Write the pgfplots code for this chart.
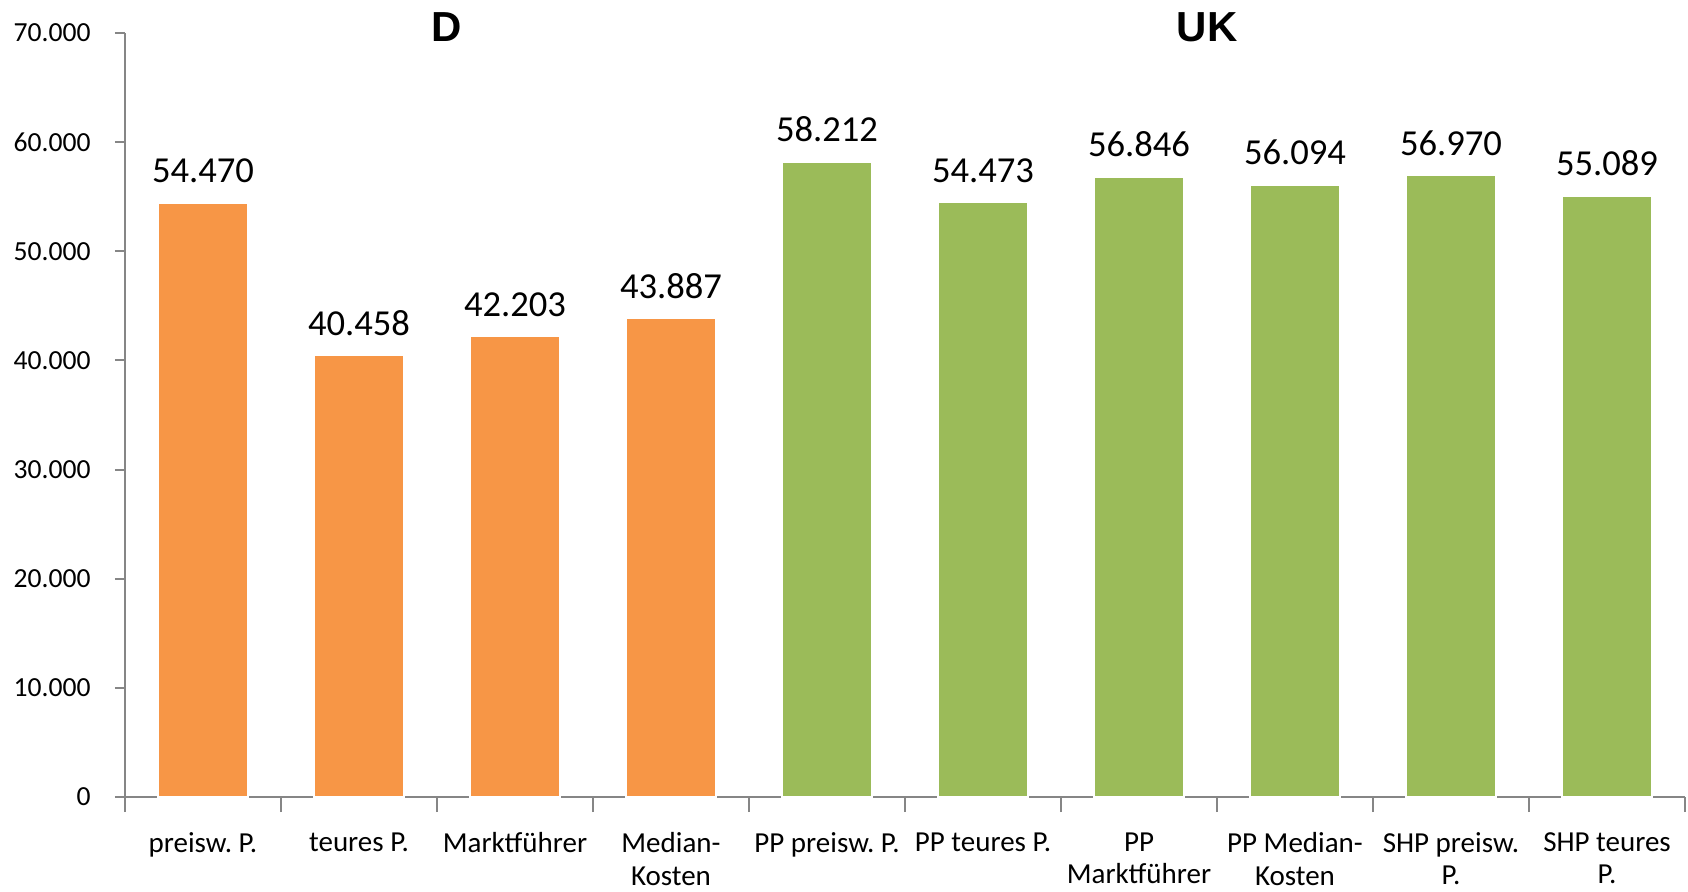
\documentclass[border=0pt]{standalone}
\usepackage{pgfplots}
\pgfplotsset{compat=1.18}
\usepackage{fontspec}
\setmainfont{Carlito}
\newfontfamily\titlefont{Liberation Sans}
\frenchspacing

\definecolor{barOrange}{HTML}{F79646}
\definecolor{barGreen}{HTML}{9BBB59}
\definecolor{axisGray}{HTML}{868686}

\begin{document}
\begin{tikzpicture}
\begin{axis}[
  at={(0,0)}, anchor=south west,
  scale only axis,
  width=780pt, height=382pt,
  xmin=-0.5, xmax=9.5,
  ymin=0, ymax=70000,
  axis lines*=left,
  axis line style={draw=axisGray, line width=1pt},
  tick style={draw=axisGray, line width=1pt},
  tick align=outside,
  major tick length=5pt,
  minor tick length=7.5pt,
  ytick={0,10000,...,70000},
  scaled y ticks=false,
  /pgf/number format/.cd, fixed, precision=0, 1000 sep={.}, assume math mode=true,
  /pgfplots/.cd,
  yticklabel style={font=\fontsize{13.8}{16}\selectfont, inner sep=0pt, xshift=-12pt},
  xtick={0,...,9},
  major x tick style={draw=none},
  minor xtick={-0.5,0.5,...,9.5},
  xticklabels={
    preisw. P.,
    teures P.,
    Marktführer,
    Median-\\Kosten,
    PP preisw. P.,
    PP teures P.,
    PP\\Marktführer,
    PP Median-\\Kosten,
    SHP preisw.\\P.,
    SHP teures\\P.},
  xticklabel style={font=\fontsize{14.5}{16.3}\selectfont, align=center, anchor=north, inner sep=0pt, yshift=-12.5pt},
  ybar, bar width=45pt,
  nodes near coords={\pgfmathprintnumber[fixed, precision=0, 1000 sep={.}, assume math mode=true]{\pgfplotspointmeta}},
  every node near coord/.append style={font=\fontsize{18.3}{20}\selectfont, text=black, anchor=base, inner sep=0pt, yshift=10pt},
  clip=false,
]
% Germany
\addplot[fill=barOrange, draw=white, line width=1pt, bar shift=0pt] coordinates {
  (0,54470) (1,40458) (2,42203) (3,43887)
};
% United Kingdom
\addplot[fill=barGreen, draw=white, line width=1pt, bar shift=0pt] coordinates {
  (4,58212) (5,54473) (6,56846) (7,56094) (8,56970) (9,55089)
};
\node[font=\titlefont\bfseries\fontsize{21}{24}\selectfont] at (rel axis cs:0.2064,1.0079) {D};
\node[font=\titlefont\bfseries\fontsize{21}{24}\selectfont] at (rel axis cs:0.6936,1.0079) {UK};
\end{axis}
\pgfresetboundingbox
\path[use as bounding box] (-62.5pt,-47pt) rectangle (781.5pt,398.5pt);
\end{tikzpicture}
\end{document}
